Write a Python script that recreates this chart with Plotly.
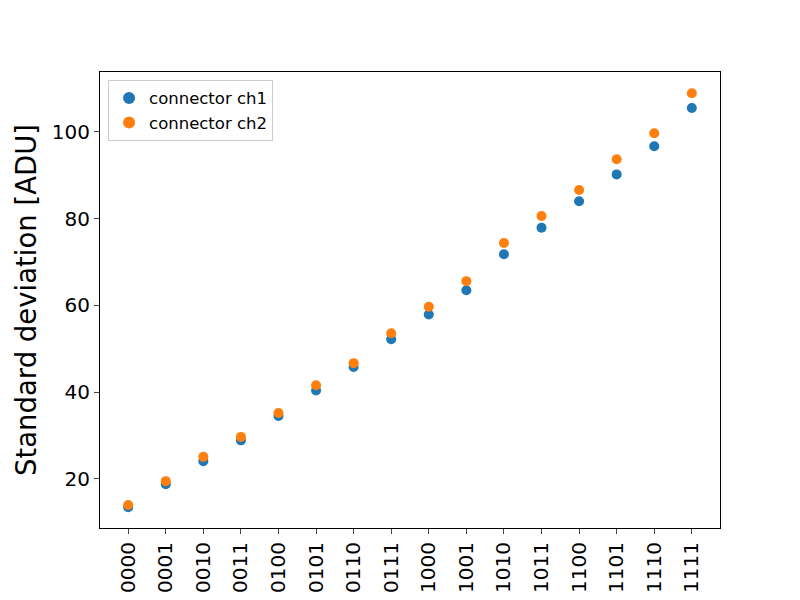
import plotly.graph_objects as go

categories = ["0000", "0001", "0010", "0011", "0100", "0101", "0110", "0111",
              "1000", "1001", "1010", "1011", "1100", "1101", "1110", "1111"]
ch1 = [13.5, 18.8, 24.1, 28.9, 34.5, 40.4, 45.8, 52.2,
       57.9, 63.5, 71.8, 77.9, 84.0, 90.2, 96.7, 105.5]
ch2 = [14.0, 19.5, 25.1, 29.7, 35.2, 41.6, 46.7, 53.6,
       59.7, 65.6, 74.4, 80.6, 86.6, 93.7, 99.7, 108.9]
y_ticks = [20, 40, 60, 80, 100]

idx = list(range(len(categories)))

fig = go.Figure()
fig.add_trace(go.Scatter(x=idx, y=ch1, mode="markers", name="connector ch1",
                         marker=dict(color="#1f77b4", size=10)))
fig.add_trace(go.Scatter(x=idx, y=ch2, mode="markers", name="connector ch2",
                         marker=dict(color="#ff7f0e", size=10)))

font = "DejaVu Sans, sans-serif"
fig.update_layout(
    width=800, height=600,
    margin=dict(l=92, r=88, t=64, b=80),
    paper_bgcolor="white", plot_bgcolor="white",
    font=dict(family=font, color="black"),
    showlegend=True,
    legend=dict(x=0.013, y=0.983, xanchor="left", yanchor="top",
                bgcolor="rgba(255,255,255,0.8)", bordercolor="#cccccc", borderwidth=1,
                font=dict(size=16.5, family=font), itemsizing="constant",
                tracegroupgap=4),
)
fig.update_xaxes(
    range=[-0.75, 15.75], tickmode="array", tickvals=idx, ticktext=categories,
    tickangle=-90, tickfont=dict(size=20), ticks="outside", ticklen=5,
    showgrid=False, zeroline=False, showline=True, linecolor="black", linewidth=1,
    mirror=True,
)
fig.update_yaxes(
    range=[8.7, 113.8], tickmode="array", tickvals=y_ticks,
    tickfont=dict(size=20), ticks="outside", ticklen=5,
    showgrid=False, zeroline=False, showline=True, linecolor="black", linewidth=1,
    mirror=True,
    title=dict(text="Standard deviation [ADU]", font=dict(size=27.5), standoff=7),
)

fig.write_html("out.html")
